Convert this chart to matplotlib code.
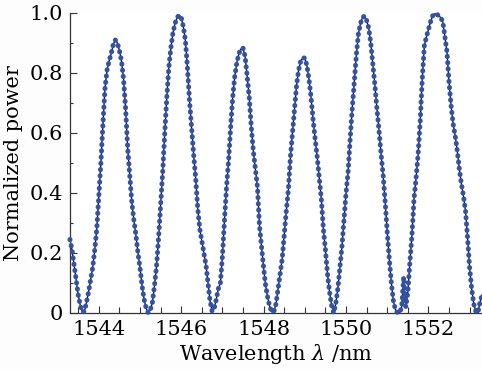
import numpy as np
import matplotlib.pyplot as plt
from matplotlib.ticker import MultipleLocator, FuncFormatter

# wavelength grid (nm), 0.05 nm steps
wavelength = np.round(np.arange(1543.30, 1553.301, 0.05), 2)

power = [
    0.245, 0.21, 0.16, 0.11, 0.06, 0.025, 0.003, 0.005, 0.035, 0.07,      # 1543.30-1543.75
    0.11, 0.15, 0.21, 0.28, 0.39, 0.50, 0.63, 0.75, 0.81, 0.84,           # 1543.80-1544.25
    0.865, 0.895, 0.91, 0.90, 0.875, 0.84, 0.78, 0.68, 0.55, 0.46,        # 1544.30-1544.75
    0.37, 0.31, 0.26, 0.20, 0.15, 0.09, 0.045, 0.015, 0.0, 0.01,          # 1544.80-1545.25
    0.035, 0.09, 0.155, 0.25, 0.36, 0.47, 0.60, 0.72, 0.82, 0.885,        # 1545.30-1545.75
    0.935, 0.965, 0.985, 0.993, 0.985, 0.955, 0.91, 0.82, 0.71, 0.62,     # 1545.80-1546.25
    0.53, 0.45, 0.35, 0.28, 0.24, 0.20, 0.16, 0.10, 0.04, 0.005,          # 1546.30-1546.75
    0.015, 0.045, 0.08, 0.10, 0.19, 0.31, 0.42, 0.51, 0.62, 0.72,         # 1546.80-1547.25
    0.79, 0.835, 0.865, 0.88, 0.883, 0.855, 0.79, 0.72, 0.62, 0.54,       # 1547.30-1547.75
    0.48, 0.42, 0.29, 0.22, 0.15, 0.09, 0.05, 0.02, 0.003, 0.005,         # 1547.80-1548.25
    0.03, 0.08, 0.13, 0.18, 0.26, 0.34, 0.41, 0.52, 0.60, 0.68,           # 1548.30-1548.75
    0.76, 0.81, 0.84, 0.85, 0.85, 0.825, 0.78, 0.72, 0.645, 0.58,         # 1548.80-1549.25
    0.52, 0.45, 0.38, 0.28, 0.21, 0.13, 0.07, 0.025, 0.0, 0.03,          # 1549.30-1549.75
    0.08, 0.15, 0.22, 0.31, 0.40, 0.47, 0.58, 0.68, 0.77, 0.86,           # 1549.80-1550.25
    0.93, 0.965, 0.985, 0.99, 0.975, 0.95, 0.90, 0.83, 0.76, 0.68,        # 1550.30-1550.75
    0.61, 0.53, 0.46, 0.37, 0.27, 0.18, 0.10, 0.04, 0.01, 0.0,            # 1550.80-1551.25
    0.0, 0.02, 0.12, 0.02, 0.07, 0.17, 0.26, 0.38, 0.45, 0.53,            # 1551.30-1551.75
    0.64, 0.78, 0.89, 0.92, 0.945, 0.97, 0.99, 0.997, 0.997, 0.99,        # 1551.80-1552.25
    0.985, 0.97, 0.92, 0.87, 0.77, 0.69, 0.63, 0.59, 0.54, 0.48,          # 1552.30-1552.75
    0.43, 0.39, 0.34, 0.25, 0.15, 0.08, 0.03, 0.005, 0.0, 0.035,          # 1552.80-1553.25
    0.06,                                                                 # 1553.30
]

x_ticks = [1544, 1546, 1548, 1550, 1552]

plt.rcParams.update({
    'font.family': 'DejaVu Serif',
    'mathtext.fontset': 'dejavuserif',
    'font.size': 15,
})

fig = plt.figure(figsize=(4.82, 3.69), dpi=100)
ax = fig.add_axes([0.1452, 0.1518, 0.8548, 0.813])

ax.plot(wavelength, power, color='black', lw=0.9, zorder=2)
ax.plot(wavelength, power, color='#3352a6', lw=3.6,
        linestyle=(0, (0.05, 1.2)), dash_capstyle='round',
        solid_capstyle='round', zorder=3, clip_on=False)

ax.set_xlim(1543.3, 1553.3)
ax.set_ylim(0, 1.0)
ax.set_xticks(x_ticks)
ax.xaxis.set_minor_locator(MultipleLocator(0.5))
ax.yaxis.set_major_locator(MultipleLocator(0.2))
ax.yaxis.set_minor_locator(MultipleLocator(0.1))
ax.yaxis.set_major_formatter(FuncFormatter(lambda v, p: '0' if abs(v) < 1e-9 else f'{v:.1f}'))

ax.tick_params(which='both', direction='in', color='#333333')
ax.tick_params(which='major', length=5, width=0.8, pad=5)
ax.tick_params(which='minor', length=4, width=0.8)
ax.tick_params(axis='y', which='minor', length=2.5)

for s in ['top', 'right']:
    ax.spines[s].set_visible(False)
for s in ['left', 'bottom']:
    ax.spines[s].set_linewidth(0.9)
    ax.spines[s].set_color('#333333')

ax.set_xlabel(r'Wavelength $\lambda$ /nm', labelpad=2.5)
ax.set_ylabel('Normalized power', labelpad=5)

fig.savefig('out.png', dpi=100, facecolor='#fdfdfd')
